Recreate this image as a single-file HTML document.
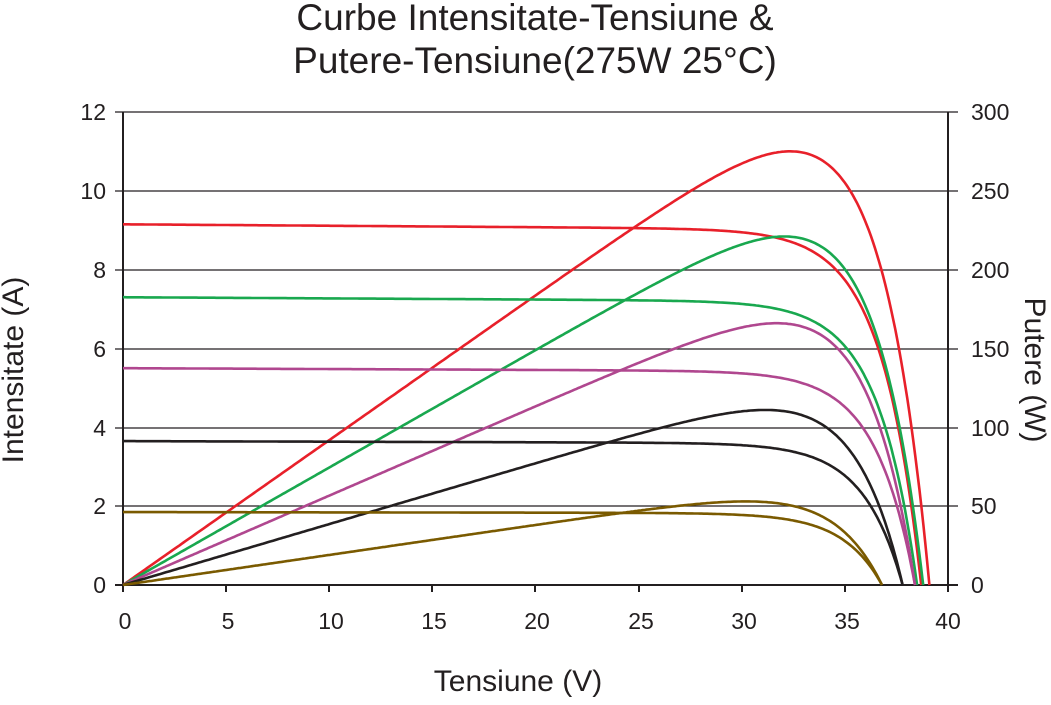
<!DOCTYPE html>
<html><head><meta charset="utf-8"><style>
body{margin:0;background:#fff;width:1051px;height:700px;overflow:hidden}
svg text{font-family:"Liberation Sans",sans-serif;fill:#231f20}
</style></head><body>
<svg id="s" width="1051" height="700" viewBox="0 0 1051 700">
<text x="535" y="30" font-size="37" text-anchor="middle">Curbe Intensitate-Tensiune &amp;</text>
<text x="535" y="73" font-size="37" text-anchor="middle">Putere-Tensiune(275W 25°C)</text>
<g stroke="#231f20" stroke-width="1.3">
<line x1="115" y1="112" x2="958" y2="112"/><line x1="115" y1="191" x2="958" y2="191"/>
<line x1="115" y1="270" x2="958" y2="270"/><line x1="115" y1="349" x2="958" y2="349"/>
<line x1="115" y1="428" x2="958" y2="428"/><line x1="115" y1="506" x2="958" y2="506"/>
</g>
<g stroke="#231f20" stroke-width="2">
<line x1="115" y1="585" x2="958" y2="585"/>
<line x1="123" y1="112" x2="123" y2="592"/>
<line x1="948" y1="112" x2="948" y2="592"/>
<line x1="226" y1="585" x2="226" y2="592"/><line x1="329" y1="585" x2="329" y2="592"/>
<line x1="432" y1="585" x2="432" y2="592"/><line x1="535" y1="585" x2="535" y2="592"/>
<line x1="639" y1="585" x2="639" y2="592"/><line x1="742" y1="585" x2="742" y2="592"/>
<line x1="845" y1="585" x2="845" y2="592"/>
</g>
<g font-size="23" text-anchor="end">
<text x="106" y="120">12</text><text x="106" y="199">10</text><text x="106" y="278">8</text>
<text x="106" y="357">6</text><text x="106" y="436">4</text><text x="106" y="514">2</text><text x="106" y="593">0</text>
</g>
<g font-size="23">
<text x="971" y="120">300</text><text x="971" y="199">250</text><text x="971" y="278">200</text>
<text x="971" y="357">150</text><text x="971" y="436">100</text><text x="971" y="514">50</text><text x="971" y="593">0</text>
</g>
<g font-size="23" text-anchor="middle">
<text x="125" y="629">0</text><text x="228" y="629">5</text><text x="331" y="629">10</text><text x="434" y="629">15</text>
<text x="537" y="629">20</text><text x="641" y="629">25</text><text x="744" y="629">30</text><text x="847" y="629">35</text><text x="948" y="629">40</text>
</g>
<text x="518" y="691" font-size="30" text-anchor="middle">Tensiune (V)</text>
<text transform="translate(23,370) rotate(-90)" font-size="30" text-anchor="middle">Intensitate (A)</text>
<text transform="translate(1025,370) rotate(90)" font-size="30" text-anchor="middle">Putere (W)</text>
<g id="c" fill="none" stroke-width="2.6"></g>
</svg>
<script>
var g=document.getElementById('c');
var X=function(v){return 123+v*20.625};
var curves=[
['#e8202a',9.15,38.7,1.9,39.1,275],
['#19a84f',7.3,38.5,1.9,38.8,221],
['#b0478f',5.5,38.4,1.9,38.4,166],
['#231f20',3.65,37.8,1.9,37.8,111],
['#7a5a00',1.85,36.8,1.9,36.8,53]];
function path(col,f,vmax){
 var d='';for(var i=0;i<=400;i++){var v=vmax*i/400;var y=f(v);d+=(i?'L':'M')+X(v).toFixed(1)+','+y.toFixed(1);}
 var p=document.createElementNS('http://www.w3.org/2000/svg','path');p.setAttribute('d',d);p.setAttribute('stroke',col);g.appendChild(p);}
curves.forEach(function(c){
 var Isc=c[1],Voc=c[2],Vt=c[3],Vp=c[4],Pk=c[5],Vt2=2.6;
 path(c[0],function(v){var I=Isc*(1-0.012*v/30)*(1-Math.exp((v-Voc)/Vt))/(1-Math.exp(-Voc/Vt));return 585-I*39.42;},Voc);
 var m=0;for(var v=0;v<Vp;v+=0.01){var q=v*(1-Math.exp((v-Vp)/Vt2));if(q>m)m=q;}
 path(c[0],function(v){var P=Pk*v*(1-Math.exp((v-Vp)/Vt2))/m;return 585-P*1.577;},Vp);
});
</script>
</body></html>
